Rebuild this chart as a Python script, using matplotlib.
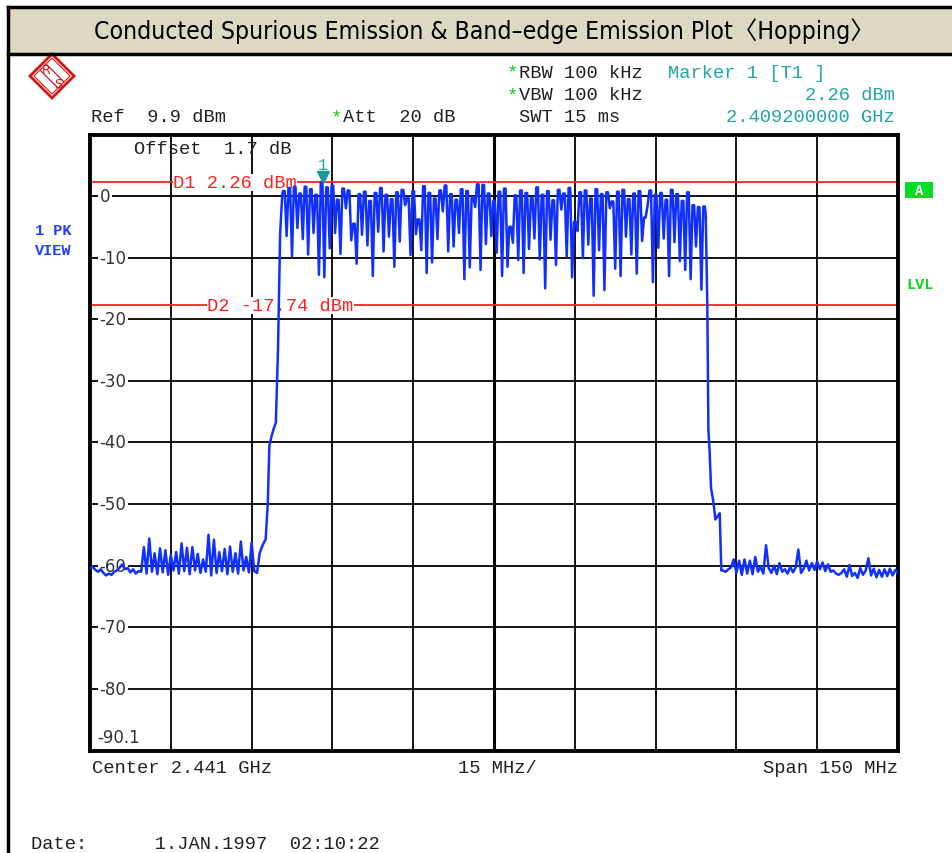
import numpy as np
import matplotlib
matplotlib.use('Agg')
import matplotlib.pyplot as plt
from matplotlib.patches import Rectangle, Polygon

# Настройки анализатора спектра
start_mhz = 2366.0
stop_mhz = 2516.0
ref_level = 9.9
bottom_level = -90.1
d1_level = 2.26
d2_level = -17.74
marker_freq = 2409.2
marker_level = 2.26
y_ticks = [0, -10, -20, -30, -40, -50, -60, -70, -80]

# Шум слева (шаг 0.5 МГц от 2366 МГц)
left_noise_start = 2366.0
left_noise = [-60.4, -60.2, -60.7, -61.0, -60.6, -61.2, -61.6, -61.3, -61.5, -61.0,
              -60.8, -60.3, -59.8, -60.6, -60.4, -61.1, -60.6, -61.3, -60.9, -61.0,
              -57.0, -61.3, -55.6, -61.0, -58.0, -61.4, -57.2, -61.1, -57.5, -61.5,
              -58.3, -60.8, -57.8, -61.3, -56.4, -60.9, -57.1, -61.4, -57.0, -60.8,
              -58.1, -61.2, -59.0, -61.0, -55.0, -61.6, -55.8, -61.2, -57.8, -60.9,
              -57.3, -61.4, -56.9, -61.0, -58.0, -61.3, -56.1, -60.8, -58.6, -61.1,
              -56.3, -60.9, -61.2]

# Левый фронт
left_edge_freq = [2397.5, 2397.9, 2398.3, 2398.6, 2399.0, 2399.3, 2399.7, 2400.1,
                  2400.5, 2400.9, 2401.3, 2401.7]
left_edge_level = [-58.0, -57.0, -56.2, -55.8, -50.0, -40.5, -39.0, -37.8,
                   -36.8, -25.0, -6.0, 0.3]

# Каналы hopping 2402..2480 МГц: пики и провалы между ними
hop_start = 2402.0
hop_peaks = [0.8, 1.3, 1.5, 0.4, 1.5, 1.1, 0.2, 2.26, 1.4, 1.7,
             -0.6, 1.2, 0.9, -4.5, 0.3, 0.7, -0.8, 0.5, 1.3, 0.2,
             -0.5, 0.6, 1.0, -0.3, 0.8, -3.8, 1.6, 0.5, -0.4, 0.9,
             1.7, 0.3, -0.6, 1.1, 0.8, -0.2, 1.9, 1.8, 0.4, -0.8,
             0.7, 1.2, -5.0, 0.1, 0.9, 0.5, -0.3, 1.4, 0.2, 0.8,
             -0.7, 1.0, 0.4, 1.3, -4.2, 0.6, 0.9, -0.4, 1.1, 0.3,
             0.6, -0.9, 0.7, 1.0, -0.5, 0.4, 0.8, -3.5, 0.9, 0.2,
             0.5, -0.6, 1.0, 0.3, -0.8, 0.6, -1.5, -1.8, -1.7]
hop_dips = [-6.5, -9.8, -5.2, -7.0, -9.5, -6.0, -12.8, -13.2, -8.5, -6.0,
            -9.4, -2.0, -7.2, -11.0, -6.3, -8.0, -13.0, -5.8, -9.0, -6.6,
            -11.5, -7.4, -1.5, -9.6, -6.2, -8.8, -12.5, -10.8, -7.0, -2.5,
            -9.0, -8.2, -6.0, -13.5, -11.6, -1.8, -12.0, -7.8, -6.5, -9.2,
            -13.0, -11.5, -7.6, -10.4, -12.5, -8.6, -6.9, -10.3, -15.0, -7.1,
            -11.2, -2.2, -9.8, -13.2, -5.7, -10.1, -7.9, -16.2, -8.8, -15.3,
            -2.0, -11.8, -13.0, -6.6, -9.5, -12.6, -7.3, -1.6, -14.0, -8.4,
            -6.9, -13.0, -7.5, -10.6, -12.0, -13.5, -8.2, -15.2]

# Правый спад
right_edge_freq = [2480.3, 2480.6, 2480.8, 2481.0, 2481.3, 2481.7, 2482.1, 2482.5,
                   2482.9, 2483.2]
right_edge_level = [-3.0, -17.5, -38.0, -41.0, -47.5, -49.5, -52.5, -52.0, -51.5, -60.8]

# Шум справа (шаг 0.5 МГц от 2483.5 МГц)
right_noise_start = 2483.5
right_noise = [-60.8, -61.0, -60.6, -60.3, -59.0, -61.2, -59.2, -61.5, -59.0, -61.3,
               -59.2, -61.4, -58.6, -61.0, -60.2, -61.3, -56.7, -60.4, -61.2, -60.0,
               -61.4, -59.6, -61.0, -60.6, -61.3, -60.2, -61.1, -60.3, -57.4, -61.2,
               -60.5, -59.2, -60.8, -59.6, -60.7, -59.3, -60.6, -59.5, -60.9, -59.8,
               -61.0, -60.8, -61.3, -61.5, -61.2, -60.6, -61.8, -59.9, -61.7, -61.2,
               -62.0, -60.4, -61.5, -60.8, -58.8, -61.6, -60.5, -61.9, -60.7, -61.8,
               -60.6, -61.7, -60.5, -61.6, -60.7, -61.2]

# Сборка трассы: у каждого канала плоская вершина шириной ~0.3 МГц
hop_freq = []
hop_level = []
for k in range(len(hop_peaks)):
    f = hop_start + k
    hop_freq += [f - 0.15, f + 0.15]
    hop_level += [hop_peaks[k], hop_peaks[k]]
    if k < len(hop_dips):
        hop_freq.append(f + 0.5)
        hop_level.append(hop_dips[k])
left_freq = left_noise_start + 0.5 * np.arange(len(left_noise))
right_freq = right_noise_start + 0.5 * np.arange(len(right_noise))

trace_f = np.concatenate([left_freq, left_edge_freq, hop_freq, right_edge_freq, right_freq])
trace_y = np.concatenate([left_noise, left_edge_level, hop_level, right_edge_level, right_noise])

W, H = 952, 854
fig = plt.figure(figsize=(W / 100, H / 100), dpi=100)
fig.patch.set_facecolor('white')

# Фоновая ось в пикселях для оформления
bg = fig.add_axes([0, 0, 1, 1])
bg.set_xlim(0, W)
bg.set_ylim(H, 0)
bg.axis('off')

mono = 'Liberation Mono'
fs = 13.5
teal = '#1ea5a5'
red = '#ff2020'
blue = '#1030ff'
green_star = '#10d010'

# Заголовок
bg.add_patch(Rectangle((8, 8), W, 47, facecolor='#dcd8c2', edgecolor='none'))
bg.plot([8, W], [8, 8], color='black', lw=2.5)
bg.plot([8, W], [55, 55], color='black', lw=2.5)
bg.plot([8, 8], [8, H], color='black', lw=2.5)
title = bg.text(484, 31, 'Conducted Spurious Emission & Band\u2013edge Emission Plot\u3008Hopping\u3009',
                family=['DejaVu Sans', 'Noto Sans CJK KR'], fontstretch='condensed',
                fontsize=20, ha='center', va='center', color='black')
# подгоняем размер шрифта под ширину заголовка в оригинале (~778 px)
fig.canvas.draw()
tw = title.get_window_extent().width
title.set_fontsize(20 * 778 / tw)

# Логотип R&S
cx, cy, r = 52, 77, 22
rs_red = '#d01818'
bg.add_patch(Polygon([(cx, cy - r), (cx + r, cy), (cx, cy + r), (cx - r, cy)],
                     closed=True, fill=False, edgecolor=rs_red, lw=2))
bg.add_patch(Polygon([(cx, cy - r + 4), (cx + r - 4, cy), (cx, cy + r - 4), (cx - r + 4, cy)],
                     closed=True, fill=False, edgecolor=rs_red, lw=0.8))
for d in (-3, 3):
    bg.plot([cx - 9 + d, cx + 9 + d], [cy - 9 - d, cy + 9 - d], color=rs_red, lw=0.9)
bg.text(cx - 6, cy - 7, 'R', color=rs_red, fontsize=9, ha='center', va='center')
bg.text(cx + 6, cy + 8, 'S', color=rs_red, fontsize=9, ha='center', va='center')

# Шапка с параметрами
bg.text(507, 73, '*', color=green_star, family=mono, fontsize=fs, va='center')
bg.text(519, 73, 'RBW 100 kHz', color='#202020', family=mono, fontsize=fs, va='center')
bg.text(507, 96, '*', color=green_star, family=mono, fontsize=fs, va='center')
bg.text(519, 96, 'VBW 100 kHz', color='#202020', family=mono, fontsize=fs, va='center')
bg.text(519, 118, 'SWT 15 ms', color='#202020', family=mono, fontsize=fs, va='center')
bg.text(668, 73, 'Marker 1 [T1 ]', color=teal, family=mono, fontsize=fs, va='center')
bg.text(895, 96, '2.26 dBm', color=teal, family=mono, fontsize=fs, va='center', ha='right')
bg.text(895, 118, '2.409200000 GHz', color=teal, family=mono, fontsize=fs, va='center', ha='right')
bg.text(91, 118, 'Ref  9.9 dBm', color='#202020', family=mono, fontsize=fs, va='center')
bg.text(331, 118, '*', color=green_star, family=mono, fontsize=fs, va='center')
bg.text(343, 118, 'Att  20 dB', color='#202020', family=mono, fontsize=fs, va='center')

bg.text(35, 231, '1 PK', color='#2040ff', family=mono, fontsize=11, weight='bold', va='center')
bg.text(35, 251, 'VIEW', color='#2040ff', family=mono, fontsize=11, weight='bold', va='center')
bg.add_patch(Rectangle((905, 183), 28, 16, facecolor='#00dd22', edgecolor='none'))
bg.text(919, 191, 'A', color='white', family=mono, fontsize=10, weight='bold', va='center', ha='center')
bg.text(906, 285, 'LVL', color='#10d020', family=mono, fontsize=11, weight='bold', va='center')

# Нижние подписи
bg.text(92, 769, 'Center 2.441 GHz', color='#202020', family=mono, fontsize=fs, va='center')
bg.text(497, 769, '15 MHz/', color='#202020', family=mono, fontsize=fs, va='center', ha='center')
bg.text(898, 769, 'Span 150 MHz', color='#202020', family=mono, fontsize=fs, va='center', ha='right')
bg.text(31, 845, 'Date:      1.JAN.1997  02:10:22', color='#202020', family=mono,
        fontsize=fs, va='center')

# Основная область графика
ax = fig.add_axes([90 / W, 1 - 752 / H, 808 / W, 616 / H])
ax.set_xlim(start_mhz, stop_mhz)
ax.set_ylim(bottom_level, ref_level)
ax.set_xticks(np.linspace(start_mhz, stop_mhz, 11))
ax.set_yticks(y_ticks)
ax.tick_params(length=0, labelleft=False, labelbottom=False)
ax.grid(True, color='black', lw=1.3, zorder=1)
ax.axvline((start_mhz + stop_mhz) / 2, color='black', lw=2.2, zorder=1)
for s in ax.spines.values():
    s.set_linewidth(2.8)

for t in y_ticks:
    ax.text(start_mhz + 1.8, t, str(t), family='DejaVu Sans', fontsize=12, color='#333333',
            va='center', ha='left', zorder=2,
            bbox=dict(facecolor='white', edgecolor='none', pad=1))
ax.text(start_mhz + 1.3, bottom_level + 2.2, '-90.1', family='DejaVu Sans', fontsize=12,
        color='#333333', va='center', ha='left', zorder=2)
ax.text(start_mhz + 8.1, ref_level - 2.2, 'Offset  1.7 dB', family=mono, fontsize=fs,
        color='#202020', va='center', zorder=2)

# Линии D1 и D2
ax.axhline(d1_level, color=red, lw=1.3, zorder=2)
ax.axhline(d2_level, color=red, lw=1.3, zorder=2)
ax.text(start_mhz + 15.5, d1_level, 'D1 2.26 dBm', family=mono, fontsize=fs, color=red,
        va='center', zorder=3, bbox=dict(facecolor='white', edgecolor='none', pad=0))
ax.text(start_mhz + 21.8, d2_level, 'D2 -17.74 dBm', family=mono, fontsize=fs, color=red,
        va='center', zorder=3, bbox=dict(facecolor='white', edgecolor='none', pad=0))

# Трасса
ax.plot(trace_f, trace_y, color=blue, lw=1.8, zorder=4)

# Маркер 1
ax.plot([marker_freq], [marker_level + 0.75], marker='v', markersize=8, color='#139c9c',
        zorder=5)
ax.text(marker_freq, marker_level + 2.9, '1', family=mono, fontsize=12, color=teal,
        ha='center', va='center', zorder=5)

fig.savefig('out.png', dpi=100)
